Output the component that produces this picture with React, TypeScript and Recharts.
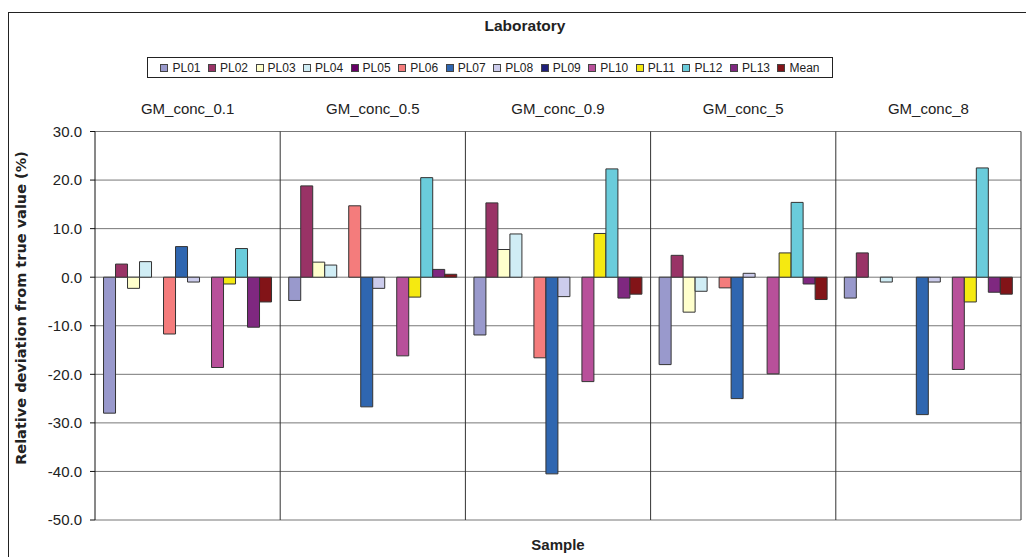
import { Bar, BarChart, CartesianGrid, XAxis, YAxis } from "recharts";

// samples along the category axis
const samples = ["GM_conc_0.1", "GM_conc_0.5", "GM_conc_0.9", "GM_conc_5", "GM_conc_8"];

// relative deviation (%) per laboratory, one value per sample (null = no result)
const pl01 = [-28.0, -4.8, -11.9, -18.0, -4.3];
const pl02 = [2.7, 18.8, 15.3, 4.5, 5.0];
const pl03 = [-2.3, 3.1, 5.7, -7.2, null];
const pl04 = [3.2, 2.5, 8.9, -2.9, -1.0];
const pl05 = [null, null, null, null, null];
const pl06 = [-11.7, 14.7, -16.6, -2.2, null];
const pl07 = [6.3, -26.7, -40.5, -25.0, -28.3];
const pl08 = [-1.0, -2.3, -4.0, 0.8, -1.0];
const pl09 = [null, null, null, null, null];
const pl10 = [-18.6, -16.2, -21.5, -19.9, -19.0];
const pl11 = [-1.4, -4.1, 9.0, 5.0, -5.1];
const pl12 = [5.9, 20.5, 22.3, 15.4, 22.5];
const pl13 = [-10.3, 1.6, -4.3, -1.4, -3.1];
const mean = [-5.1, 0.6, -3.5, -4.6, -3.5];

const yTicks = [-50, -40, -30, -20, -10, 0, 10, 20, 30];

const labs = ["PL01", "PL02", "PL03", "PL04", "PL05", "PL06", "PL07", "PL08", "PL09", "PL10", "PL11", "PL12", "PL13", "Mean"];
const labValues = [pl01, pl02, pl03, pl04, pl05, pl06, pl07, pl08, pl09, pl10, pl11, pl12, pl13, mean];
const labColors = [
  "#9999cc", "#993366", "#ffffcc", "#d0edf5", "#660066", "#f47c7c", "#2f66b0",
  "#ccccec", "#1f1f7a", "#b8509a", "#f5e911", "#6accdb", "#7f2880", "#821418",
];

const rows = samples.map((sample, i) => {
  const row: Record<string, string | number | null> = { sample };
  labs.forEach((lab, j) => {
    row[lab] = labValues[j][i];
  });
  return row;
});

const font = "'Liberation Sans', Arial, sans-serif";

export default function App() {
  return (
    <div
      style={{
        position: "absolute",
        left: 0,
        top: 0,
        width: 1026,
        height: 557,
        overflow: "hidden",
        background: "#fff",
        fontFamily: font,
        color: "#222",
      }}
    >
      <div
        style={{
          position: "absolute",
          left: 8,
          top: 12,
          width: 1030,
          height: 560,
          borderLeft: "1px solid #222",
          borderTop: "1px solid #222",
        }}
      />
      <div style={{ position: "absolute", left: 425, top: 17, width: 200, textAlign: "center", fontWeight: "bold", fontSize: 15.5 }}>
        Laboratory
      </div>
      <div
        style={{
          position: "absolute",
          left: 147,
          top: 57,
          width: 686,
          height: 21,
          border: "1px solid #222",
          boxSizing: "border-box",
          display: "flex",
          alignItems: "center",
          justifyContent: "center",
          fontSize: 12,
        }}
      >
        {labs.map((lab, j) => (
          <span key={lab} style={{ display: "flex", alignItems: "center", marginRight: j === labs.length - 1 ? 0 : 7.5 }}>
            <span
              style={{
                display: "inline-block",
                width: 6,
                height: 6,
                background: labColors[j],
                border: "1px solid #444",
                marginRight: 4,
              }}
            />
            {lab}
          </span>
        ))}
      </div>
      <BarChart
        width={1026}
        height={557}
        data={rows}
        margin={{ top: 100, right: 5, bottom: 37, left: 0 }}
        barCategoryGap="4.6%"
        barGap={0}
        style={{ position: "absolute", left: 0, top: 0 }}
      >
        <CartesianGrid horizontal vertical={false} stroke="#777" strokeWidth={1} />
        <CartesianGrid
          horizontal={false}
          vertical
          stroke="#333"
          strokeWidth={1}
          verticalCoordinatesGenerator={({ offset }: any) =>
            samples.map((_, i) => offset.left + ((i + 1) * offset.width) / samples.length)
          }
        />
        <XAxis
          dataKey="sample"
          orientation="top"
          height={31.5}
          axisLine={false}
          tickLine={false}
          tickSize={0}
          tickMargin={18}
          interval={0}
          tick={{ fill: "#222", fontSize: 15, fontFamily: font }}
        />
        <YAxis
          type="number"
          domain={[-50, 30]}
          ticks={yTicks}
          interval={0}
          width={95}
          tickFormatter={(v: number) => v.toFixed(1)}
          axisLine={{ stroke: "#111" }}
          tickLine={{ stroke: "#111" }}
          tickSize={5}
          tickMargin={8}
          tick={{ fill: "#222", fontSize: 15, fontFamily: font }}
        />
        {labs.map((lab, j) => (
          <Bar key={lab} dataKey={lab} fill={labColors[j]} stroke="#333" strokeWidth={1} isAnimationActive={false} />
        ))}
      </BarChart>
      <div
        style={{
          position: "absolute",
          left: 21,
          top: 308,
          transform: "translate(-50%, -50%) rotate(-90deg)",
          whiteSpace: "nowrap",
          fontWeight: "bold",
          fontSize: 14.5,
          fontFamily: "'DejaVu Sans', Verdana, sans-serif",
        }}
      >
        Relative deviation from true value (%)
      </div>
      <div style={{ position: "absolute", left: 458, top: 536, width: 200, textAlign: "center", fontWeight: "bold", fontSize: 15 }}>
        Sample
      </div>
    </div>
  );
}
